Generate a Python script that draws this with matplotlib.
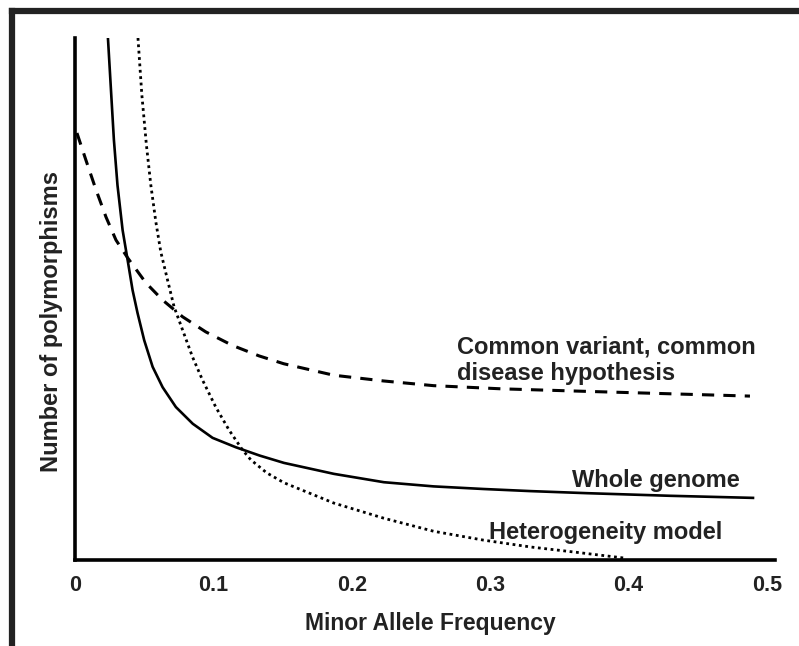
import matplotlib
matplotlib.use("Agg")
import matplotlib.pyplot as plt
from matplotlib.lines import Line2D

# values (x = minor allele frequency, y = relative count)
whole_x = [0.0238, 0.026, 0.0281, 0.0307, 0.0344, 0.038, 0.0416, 0.0452, 0.05,
           0.0561, 0.0633, 0.0729, 0.0851, 0.0994, 0.1162, 0.1335, 0.151,
           0.1871, 0.2232, 0.2592, 0.2953, 0.329, 0.3701, 0.43, 0.4899]
whole_y = [1.0, 0.9, 0.805, 0.718, 0.632, 0.575, 0.517, 0.473, 0.421,
           0.37, 0.331, 0.293, 0.261, 0.234, 0.216, 0.2, 0.186,
           0.165, 0.149, 0.141, 0.136, 0.132, 0.128, 0.123, 0.119]

cvcd_x = [0.0014, 0.0079, 0.0152, 0.0224, 0.0296, 0.038, 0.0512, 0.0633, 0.0777,
          0.0945, 0.1138, 0.133, 0.1508, 0.1869, 0.2229, 0.259, 0.3074, 0.3701,
          0.4877]
cvcd_y = [0.818, 0.766, 0.709, 0.657, 0.613, 0.579, 0.531, 0.498, 0.466,
          0.437, 0.411, 0.391, 0.376, 0.354, 0.343, 0.334, 0.328, 0.323,
          0.314]

het_x = [0.0455, 0.0483, 0.0516, 0.0548, 0.0584, 0.062, 0.0669, 0.0716, 0.0777,
         0.0849, 0.0921, 0.1017, 0.1113, 0.121, 0.127, 0.1385, 0.151, 0.1871,
         0.2232, 0.2592, 0.2953, 0.329, 0.3615, 0.3961]
het_y = [1.0, 0.891, 0.795, 0.718, 0.648, 0.59, 0.536, 0.485, 0.441,
         0.389, 0.345, 0.293, 0.249, 0.211, 0.192, 0.167, 0.148, 0.109,
         0.08, 0.055, 0.038, 0.025, 0.015, 0.004]

xticks = [0, 0.1, 0.2, 0.3, 0.4, 0.5]
xticklabels = ["0", "0.1", "0.2", "0.3", "0.4", "0.5"]

txt = "#222222"
plt.rcParams['font.family'] = ['Liberation Sans', 'DejaVu Sans']
plt.rcParams['font.weight'] = 'bold'
plt.rcParams['axes.labelweight'] = 'bold'

fig = plt.figure(figsize=(7.99, 6.46), dpi=100)
ax = fig.add_axes([75 / 799, 1 - 560 / 646, 700 / 799, 522 / 646])

ax.plot(whole_x, whole_y, color="black", lw=1.9, solid_joinstyle="round")
ax.plot(cvcd_x, cvcd_y, color="black", lw=2.2, linestyle=(0, (4, 3)))
ax.plot(het_x, het_y, color="black", lw=2.0, linestyle=(0, (1, 1.3)))

ax.set_xlim(0, 0.5058)
ax.set_ylim(0, 1)
ax.set_xticks(xticks)
ax.set_xticklabels(xticklabels, fontsize=15.5, color=txt)
ax.set_yticks([])
ax.tick_params(axis="x", length=0, pad=11)

for s in ["top", "right"]:
    ax.spines[s].set_visible(False)
for s in ["left", "bottom"]:
    ax.spines[s].set_linewidth(2.6)
    ax.spines[s].set_color("black")

ax.set_xlabel("Minor Allele Frequency", fontsize=16.5, color=txt, va="center")
ax.xaxis.set_label_coords(0.507, -0.1207)
ax.set_ylabel("Number of polymorphisms", fontsize=17, color=txt, va="center")
ax.yaxis.set_label_coords(-0.033, 0.456)

ax.text(0.2763, 0.408, "Common variant, common", fontsize=17, color=txt,
        ha="left", va="center")
ax.text(0.2763, 0.358, "disease hypothesis", fontsize=17, color=txt,
        ha="left", va="center")
ax.text(0.4805, 0.153, "Whole genome", fontsize=17, color=txt,
        ha="right", va="center")
ax.text(0.468, 0.0536, "Heterogeneity model", fontsize=17, color=txt,
        ha="right", va="center")

# frame around the figure (cut off at right and bottom)
fx = 11.5 / 799
fy = 1 - 10.5 / 646
fig.add_artist(Line2D([fx, fx], [0, fy], transform=fig.transFigure,
                      color="#222222", lw=4.5, solid_capstyle="projecting"))
fig.add_artist(Line2D([fx, 1], [fy, fy], transform=fig.transFigure,
                      color="#222222", lw=4.5, solid_capstyle="projecting"))

fig.savefig("out.png", dpi=100)
